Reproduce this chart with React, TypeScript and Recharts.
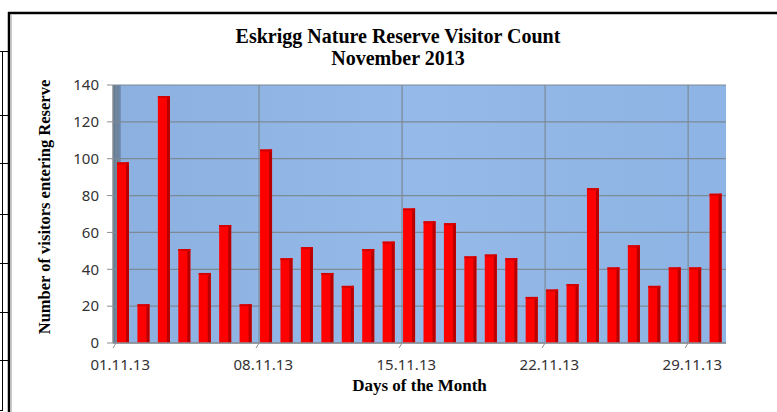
import React from 'react';
import { BarChart, Bar, XAxis, YAxis, CartesianGrid } from 'recharts';

const days = [
  '01.11.13', '02.11.13', '03.11.13', '04.11.13', '05.11.13', '06.11.13', '07.11.13', '08.11.13',
  '09.11.13', '10.11.13', '11.11.13', '12.11.13', '13.11.13', '14.11.13', '15.11.13', '16.11.13',
  '17.11.13', '18.11.13', '19.11.13', '20.11.13', '21.11.13', '22.11.13', '23.11.13', '24.11.13',
  '25.11.13', '26.11.13', '27.11.13', '28.11.13', '29.11.13', '30.11.13',
];

const visitors = [
  98, 21, 134, 51, 38, 64, 21, 105, 46, 52, 38, 31, 51, 55, 73,
  66, 65, 47, 48, 46, 25, 29, 32, 84, 41, 53, 31, 41, 41, 81,
];

const tickLabels = ['01.11.13', '08.11.13', '15.11.13', '22.11.13', '29.11.13'];
const yTicks = [0, 20, 40, 60, 80, 100, 120, 140];

const data = days.map((day, i) => ({ day, visitors: visitors[i] }));

const W = 777;
const H = 412;
const SERIF = '"Liberation Serif", "Times New Roman", serif';
const SANS = '"Noto Sans", "Open Sans", sans-serif';

const DayTick = (props: any) => {
  const { x, y, payload } = props;
  const band = props.band || 20.4;
  const bx = x - band / 2;
  return (
    <g>
      <line x1={bx + 3} y1={y} x2={bx} y2={y + 5} stroke="#8a8f94" strokeWidth={1} />
      <text x={x - 3} y={y + 27} textAnchor="middle" fontFamily={SANS} fontSize={15} fill="#333">
        {payload.value}
      </text>
    </g>
  );
};

const YLabel = (props: any) => {
  const { viewBox } = props;
  const cx = 50;
  const cy = viewBox.y + viewBox.height / 2 - 7;
  return (
    <text
      x={cx}
      y={cy}
      transform={`rotate(-90 ${cx} ${cy})`}
      textAnchor="middle"
      fontFamily={SERIF}
      fontWeight="bold"
      fontSize={16.5}
      fill="#000"
    >
      Number of visitors entering Reserve
    </text>
  );
};

const Bar3D = (props: any) => {
  const { x, y, width, height } = props;
  if (!height || height <= 0) return null;
  return (
    <g>
      <rect x={x} y={y} width={width} height={height} fill="#ff0000" />
      <rect x={x + width - 3} y={y} width={3} height={height} fill="#b80000" />
      <rect x={x} y={y} width={width} height={2} fill="#d40000" />
    </g>
  );
};

export default function App() {
  const plotLeft = 113;
  const plotRight = 726;
  const plotTop = 85;
  const plotBottom = 343;
  const yAxisWidth = 60;
  const xAxisHeight = 30;
  const band = (plotRight - plotLeft) / days.length;

  return (
    <div style={{ position: 'absolute', left: 0, top: 0, width: W, height: H, overflow: 'hidden', background: '#fff' }}>
      {/* bit of the neighbouring table on the left */}
      <svg width={W} height={H} style={{ position: 'absolute', left: 0, top: 0 }}>
        <line x1={2.5} y1={51} x2={2.5} y2={410} stroke="#000" strokeWidth={1} />
        {[51, 115, 163, 214, 263, 312, 360].map((yy) => (
          <line key={yy} x1={0} y1={yy + 0.5} x2={8} y2={yy + 0.5} stroke="#000" strokeWidth={1} />
        ))}
        <line x1={0} y1={410.5} x2={3} y2={410.5} stroke="#000" strokeWidth={1} />
        <line x1={9} y1={12} x2={9} y2={H} stroke="#000" strokeWidth={2.5} />
        <line x1={8} y1={13} x2={W} y2={13} stroke="#000" strokeWidth={2.5} />
        <line x1={11.5} y1={15} x2={11.5} y2={H} stroke="#c8c8c8" strokeWidth={1} />
      </svg>

      <div
        style={{
          position: 'absolute',
          left: 0,
          width: 796,
          top: 25,
          textAlign: 'center',
          fontFamily: SERIF,
          fontWeight: 'bold',
          fontSize: 20,
          lineHeight: '22px',
          color: '#000',
        }}
      >
        Eskrigg Nature Reserve Visitor Count
        <br />
        November 2013
      </div>

      <div style={{ position: 'absolute', left: 0, top: 0 }}>
        <BarChart
          width={W}
          height={H}
          data={data}
          margin={{ top: plotTop, right: W - plotRight, bottom: H - plotBottom - xAxisHeight, left: plotLeft - yAxisWidth }}
          barSize={12}
        >
          <defs>
            <linearGradient id="wall" x1="0" y1="0" x2="1" y2="0">
              <stop offset="0" stopColor="#5f7894" />
              <stop offset="0.012" stopColor="#6f89a8" />
              <stop offset="0.013" stopColor="#8cb0e0" />
              <stop offset="0.5" stopColor="#95b9e8" />
              <stop offset="1" stopColor="#8db4e4" />
            </linearGradient>
          </defs>
          <CartesianGrid
            fill="url(#wall)"
            fillOpacity={1}
            stroke="#7d8a96"
            strokeWidth={1.2}
            verticalCoordinatesGenerator={({ offset }: any) =>
              tickLabels.map((t) => offset.left + days.indexOf(t) * (offset.width / days.length) + 3)
            }
          />
          <XAxis
            dataKey="day"
            ticks={tickLabels}
            interval={0}
            height={xAxisHeight}
            tickSize={0}
            tickMargin={0}
            tickLine={false}
            axisLine={{ stroke: '#8a8f94', strokeWidth: 1.5 }}
            tick={<DayTick band={band} />}
          />
          <YAxis
            domain={[0, 140]}
            ticks={yTicks}
            interval={0}
            width={yAxisWidth}
            tickSize={6}
            tickMargin={8}
            tickLine={{ stroke: '#8a8f94' }}
            axisLine={{ stroke: '#8a8f94', strokeWidth: 1.5 }}
            tick={{ fontFamily: SANS, fontSize: 15, fill: '#333' }}
            label={<YLabel />}
          />
          <Bar dataKey="visitors" shape={<Bar3D />} isAnimationActive={false} />
        </BarChart>
      </div>

      <div
        style={{
          position: 'absolute',
          left: plotLeft,
          width: plotRight - plotLeft,
          top: 376,
          textAlign: 'center',
          fontFamily: SERIF,
          fontWeight: 'bold',
          fontSize: 17,
          lineHeight: '20px',
          color: '#000',
        }}
      >
        Days of the Month
      </div>
    </div>
  );
}
